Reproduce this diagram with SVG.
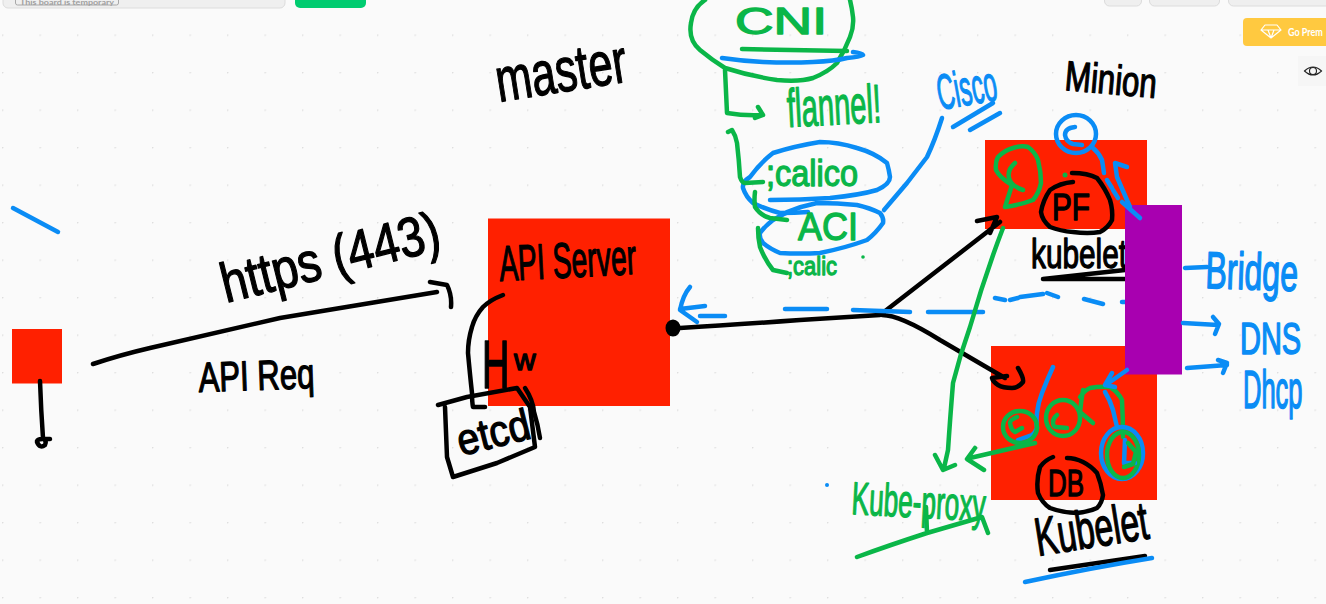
<svg xmlns="http://www.w3.org/2000/svg" width="1326" height="604" viewBox="0 0 1326 604">
<style>
.s{fill:none;stroke-width:4.500;stroke-linecap:round;stroke-linejoin:round}
.k{stroke:#000}.g{stroke:#0ab648}.b{stroke:#0a8cf5}
.t{font-family:"Liberation Sans",Arial,sans-serif;stroke-width:1.300;stroke-linejoin:round;vector-effect:non-scaling-stroke}
.tk{fill:#000;stroke:#000}.tg{fill:#0ab648;stroke:#0ab648}.tb{fill:#0a8cf5;stroke:#0a8cf5}
.red{fill:#ff2000}
.ui{font-family:Lato,"Liberation Sans",sans-serif}
</style>
<defs>
<pattern id="dots" x="2" y="-3" width="37.5" height="37.5" patternUnits="userSpaceOnUse"><circle cx="0.5" cy="0.5" r="1" fill="#dedede"/></pattern>
</defs>
<rect width="1326" height="604" fill="#fafafa"/>
<rect width="1326" height="604" fill="url(#dots)"/>

<g id="toolbar">
<rect x="3" y="-12" width="282" height="20" rx="5" fill="#efefef" stroke="#dcdcdc"/>
<rect x="15.500" y="-8" width="103" height="13" rx="2" fill="#efefef" stroke="#a8a8a8"/>
<text class="ui" x="20" y="5" font-size="6.500" font-weight="700" fill="#a0a0a0" textLength="94" lengthAdjust="spacingAndGlyphs">This board is temporary</text>
<rect x="295" y="-12" width="71" height="20" rx="5" fill="#00cc70"/>
<rect x="1104.500" y="-12" width="37" height="18" rx="5" fill="#efefef" stroke="#dcdcdc"/>
<rect x="1149.500" y="-12" width="70" height="18" rx="5" fill="#efefef" stroke="#dcdcdc"/>
<rect x="1228.500" y="-12" width="110" height="18" rx="5" fill="#efefef" stroke="#dcdcdc"/>
</g>
<g id="premium">
<rect x="1243" y="18" width="100" height="28" rx="4" fill="#ffc940"/>
<path d="M1265 25h12l4 5-10 8-10-8zM1261 30h20M1268 30l3 8 3-8" fill="none" stroke="#fff" stroke-width="1.200" stroke-linejoin="round"/>
<text class="ui" transform="translate(1288 36) scale(1 1.300)" font-size="9" font-weight="700" fill="#fff">Go Prem</text>
</g>
<g id="view-toggle">
<rect x="1298" y="56" width="28" height="30" fill="#f6f6f6"/>
<path d="M1304.500 71q8.500-8 17 0q-8.500 8-17 0z" fill="none" stroke="#222" stroke-width="1.100"/>
<circle cx="1313" cy="71" r="3.500" fill="none" stroke="#222" stroke-width="1.100"/>
</g>

<g id="client">
<rect class="red" x="12" y="329" width="50" height="54.500"/>
<path class="s k" d="M40 381Q41 410 43 438M50 439Q36 438 37 442Q40 449 45 445Q47 441 43 438"/>
</g>

<g id="api-server">
<rect class="red" x="488" y="218.500" width="182" height="187.500"/>
<text class="t tk" transform="translate(500 281) rotate(-3)" font-size="50" textLength="137" lengthAdjust="spacingAndGlyphs">API Server</text>
<text class="t tk" transform="translate(482 388) scale(1 1.800)" font-size="38">H</text>
<text class="t tk" x="514" y="370" font-size="30">w</text>
<ellipse cx="673" cy="328" rx="6" ry="7" fill="#000" stroke="#000" stroke-width="3"/>
</g>

<g id="etcd">
<path class="s k" d="M438 405L467 397L517 388L530 407L535 447L497 463L453 477L447 457L445 407"/>
<path class="s k" d="M525 388Q533 400 534 412Q538 425 540 438"/>
<text class="t tk" transform="translate(461 456) rotate(-14)" font-size="44" textLength="74" lengthAdjust="spacingAndGlyphs">etcd</text>
</g>

<g id="master-label"><text class="t tk" transform="translate(499 102) rotate(-9)" font-size="62" textLength="132" lengthAdjust="spacingAndGlyphs">master</text></g>
<g id="minion-label"><text class="t tk" transform="translate(1064 90) rotate(5)" font-size="42" textLength="92" lengthAdjust="spacingAndGlyphs">Minion</text></g>
<g id="https-label"><text class="t tk" transform="translate(226 303) rotate(-14)" font-size="56" textLength="224" lengthAdjust="spacingAndGlyphs">https (443)</text></g>
<g id="req-label"><text class="t tk" transform="translate(199 392) rotate(-2)" font-size="42" textLength="116" lengthAdjust="spacingAndGlyphs">API Req</text></g>

<g id="cni">
<path class="s g" d="M705 0Q693 8 691 23Q688 40 700 50Q712 60 725 68Q750 76 777 80Q800 82 813 78Q828 72 837 63Q845 50 850 37Q854 27 853 17Q852 8 850 0"/>
<text class="t tg" x="735" y="34" font-size="36" textLength="92" lengthAdjust="spacingAndGlyphs">CNI</text>
<path class="s g" d="M742 49L847 51"/>
<path class="s b" d="M722 58Q742 61 763 62Q790 63 813 62Q835 61 847 58Q860 57 863 55Q862 53 853 52"/>
</g>
<g id="flannel">
<text class="t tg" transform="translate(788 127) rotate(-3)" font-size="54" textLength="94" lengthAdjust="spacingAndGlyphs">flannel!</text>
</g>
<g id="calico">
<path class="s b" d="M770 200Q800 200 830 198Q860 195 877 190Q890 184 890 177Q889 170 887 163Q875 153 857 148Q838 142 820 142Q795 146 773 153Q760 163 750 177Q742 182 743 188Q746 197 753 203Q765 209 780 213Q795 213 808 212"/>
<text class="t tg" x="766" y="186" font-size="36" textLength="92" lengthAdjust="spacingAndGlyphs">;calico</text>
</g>
<g id="aci">
<path class="s b" d="M787 212Q802 206 817 203Q838 203 857 205Q870 208 880 213Q884 218 883 223Q876 233 867 240Q845 248 820 253Q800 254 780 253Q770 249 763 243Q759 238 760 233Q765 226 773 220Q783 214 793 210"/>
<text class="t tg" x="798" y="240" font-size="38" textLength="60" lengthAdjust="spacingAndGlyphs">ACI</text>
</g>
<g id="cilium">
<text class="t tg" x="787" y="275" font-size="26" textLength="50" lengthAdjust="spacingAndGlyphs">;calic</text>
<circle cx="863" cy="257" r="1.800" fill="#0ab648"/>
</g>
<g id="cisco">
<text class="t tb" transform="translate(940 110) rotate(-10)" font-size="50" textLength="60" lengthAdjust="spacingAndGlyphs">Cisco</text>
<path class="s b" d="M953 127L993 103M970 130L1000 113"/>
</g>

<g id="minion-1">
<rect class="red" x="985" y="140" width="162" height="89"/>
<path class="s g" d="M1015 163Q1007 170 1009 178Q1011 186 1023 190M1005 207L1012 185Q1000 178 996 170Q995 162 998 157Q1005 150 1013 148Q1022 145 1028 147Q1035 152 1038 160Q1041 172 1041 183Q1039 193 1033 200Q1020 205 1005 207"/>
<path class="s k" d="M1072 173Q1088 173 1097 178Q1105 188 1110 200Q1113 210 1112 220Q1108 228 1100 232Q1088 234 1073 232Q1060 231 1050 227Q1042 220 1041 212Q1043 200 1050 190Q1060 183 1073 182"/>
<text class="t tk" x="1052" y="220" font-size="36" textLength="38" lengthAdjust="spacingAndGlyphs">PF</text>
<circle cx="1065" cy="175" r="2.500" fill="#0ab648"/>
<text class="t tk" x="1031" y="268" font-size="40" textLength="96" lengthAdjust="spacingAndGlyphs">kubelet</text>
<path class="s k" d="M1043 279L1125 270M1043 279L1127 279" stroke-width="5"/>
<ellipse class="s b" cx="1076" cy="134" rx="20" ry="19"/>
<path class="s b" d="M1075 127Q1065 128 1065 135Q1066 142 1073 144L1082 145M1093 148Q1099 153 1102 160L1104 173"/>
</g>

<g id="minion-2">
<rect class="red" x="991" y="346" width="166" height="154"/>
<path class="s b" d="M1053 367Q1047 380 1042 393Q1038 403 1037 413Q1036 422 1037 428Q1035 433 1032 435L1018 440"/>
<ellipse class="s g" cx="1020" cy="427" rx="17" ry="16"/>
<path class="s g" d="M1017 417Q1010 420 1010 423Q1011 430 1015 432L1022 428"/>
<ellipse class="s g" cx="1063" cy="418" rx="17" ry="18"/>
<path class="s g" d="M1057 415Q1053 418 1053 422Q1053 427 1056 427L1067 428M1083 390Q1081 402 1080 412L1093 423M1080 397Q1085 390 1090 388Q1100 386 1110 387Q1118 392 1122 400Q1123 420 1123 437"/>
<ellipse class="s b" cx="1122" cy="453" rx="21" ry="26"/>
<ellipse class="s g" cx="1123" cy="455" rx="16" ry="23"/>
<path class="s b" d="M1125 440L1124 463L1135 463M1105 392Q1110 400 1113 410L1117 427"/>
<path class="s g" d="M1128 443L1136 452L1133 464L1124 467"/>
<path class="s k" d="M1053 457Q1045 460 1040 467Q1036 480 1038 493Q1042 503 1050 508Q1063 513 1077 513Q1088 512 1097 508Q1102 503 1103 495Q1101 483 1097 473Q1091 466 1083 462Q1075 458 1067 458"/>
<text class="t tk" x="1048" y="496" font-size="36" textLength="36" lengthAdjust="spacingAndGlyphs">DB</text>
<text class="t tk" transform="translate(1038 556) rotate(-9)" font-size="54" textLength="114" lengthAdjust="spacingAndGlyphs">Kubelet</text>
<path class="s k" d="M1050 570L1145 556"/>
<path class="s b" d="M1025 582Q1090 568 1152 558"/>
</g>

<g id="kube-proxy">
<text class="t tg" transform="translate(851 514) rotate(3)" font-size="46" textLength="134" lengthAdjust="spacingAndGlyphs">Kube-proxy</text>
<path class="s g" d="M857 557Q890 545 927 533L982 517L988 533M927 533L926 507"/>
<circle cx="827" cy="485" r="2" fill="#0a8cf5"/>
</g>

<g id="connectors">
<path class="s b" d="M13 208L58 232"/>
<path class="s k" d="M93 364Q120 355 150 348Q220 332 280 318Q360 305 437 292M430 282L447 285Q452 295 451 307"/>
<path class="s k" d="M503 295Q490 300 483 307Q475 316 472 327Q468 340 468 353Q470 375 472 393Q472 402 473 407L485 407"/>
<path class="s b" d="M690 287Q683 295 680 310L697 322M680 309L705 306M700 316L725 316"/>
<path class="s k" d="M680 328Q730 325 800 320L880 315L1000 222M977 221L997 217L990 233M882 315Q900 315 940 340L1005 378M1018 368Q1024 378 1023 382Q1018 388 1012 388Q1003 388 998 385Q993 382 992 378L1007 376"/>
<path class="s b" d="M785 309H827M853 310L910 312M928 312H983M995 298L1005 300M1010 300L1018 298M1020 297L1043 294M1047 293L1058 297M1084 299L1103 304M1122 302L1127 302"/>
<path class="s g" d="M1003 228Q985 275 970 327Q960 355 953 383Q950 420 948 450L944 468M935 455L943 470L955 465"/>
<path class="s g" d="M1035 443L970 458M975 448L967 459L984 470"/>
<path class="s g" d="M725 70Q726 90 727 113Q745 116 763 115M758 107L763 115L755 118"/>
<path class="s g" d="M728 132L732 130Q736 136 737 143Q739 160 740 177Q742 183 745 183L763 182"/>
<path class="s g" d="M755 192Q754 200 755 207Q761 216 770 218L787 220"/>
<path class="s g" d="M758 228Q758 238 760 247Q765 260 773 270L787 273"/>
<path class="s b" d="M942 118Q935 140 927 157Q917 170 907 183L884 210"/>
</g>

<g id="bus">
<rect x="1125" y="205" width="57" height="169.500" fill="#a800b0"/>
</g>
<g id="bus-links">
<path class="s b" d="M1107 180L1112 188M1113 190L1118 198M1122 202L1140 218M1127 167L1115 163L1117 177L1130 207"/>
<path class="s b" d="M1127 370L1110 382M1112 373L1105 385L1115 387"/>
<path class="s b" d="M1185 268L1207 267M1183 323L1218 325M1213 317L1219 324L1215 334M1187 368L1227 365M1218 360L1227 363L1223 373"/>
<text class="t tb" transform="translate(1205 288) rotate(2) scale(1 1.630)" font-size="32">Bridge</text>
<text class="t tb" transform="translate(1240 354) scale(1 1.500)" font-size="29">DNS</text>
<text class="t tb" transform="translate(1243 408) scale(1 2.100)" font-size="25.500">Dhcp</text>
</g>
</svg>
